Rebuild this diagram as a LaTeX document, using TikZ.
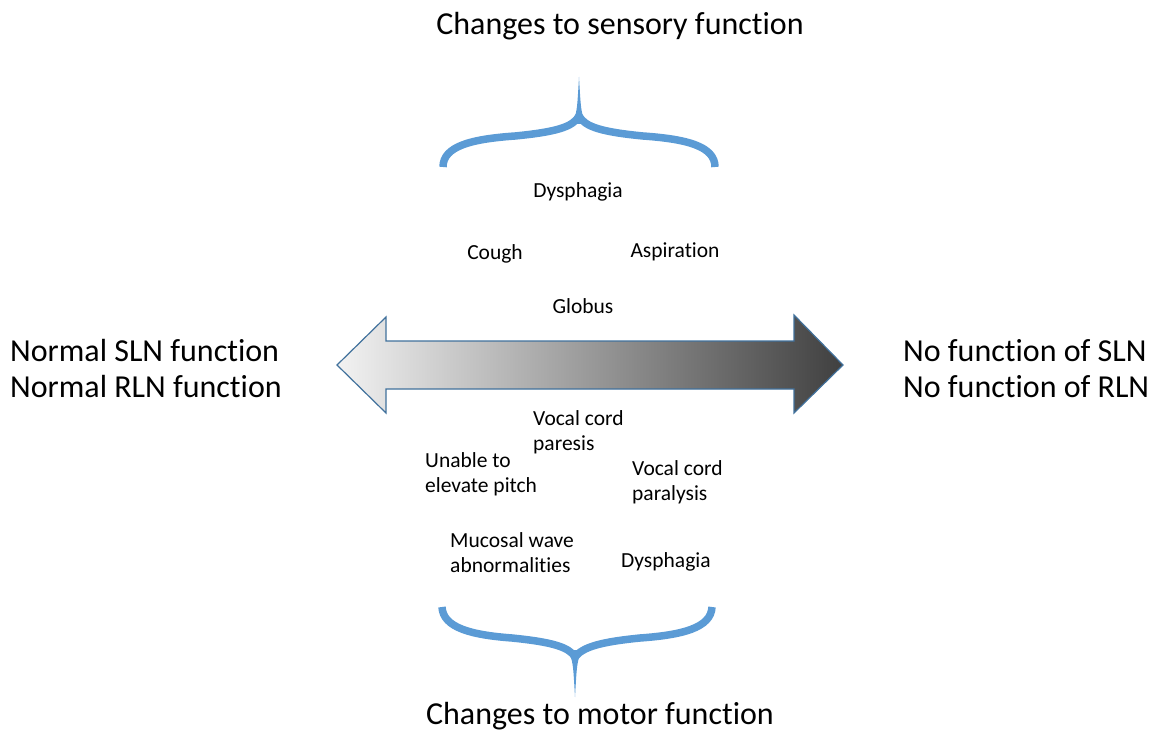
\documentclass[tikz,border=0pt]{standalone}
\usepackage{fontspec}
\setmainfont[Ligatures={NoCommon}]{Carlito}
\definecolor{braceblue}{HTML}{5B9BD5}
\definecolor{arrowline}{HTML}{41719C}
\tikzset{
	big/.style={font=\fontsize{32}{36}\selectfont, inner sep=0pt, align=left},
	small/.style={font=\fontsize{21.5}{25}\selectfont, inner sep=0pt, align=left},
	brace/.style={braceblue, line width=7.5pt},
}
\begin{document}
\begin{tikzpicture}[x=1pt,y=-1pt]
	\useasboundingbox (0,0) rectangle (1153,730);
	% double arrow
	\shade[left color=black!5, right color=black!75]
		(337,365) -- (386,317) -- (386,341) -- (794,341) -- (794,315) -- (843,365)
		-- (794,413) -- (794,389) -- (386,389) -- (386,413) -- cycle;
	\draw[arrowline, line width=1.2pt, line join=miter]
		(337,365) -- (386,317) -- (386,341) -- (794,341) -- (794,315) -- (843,365)
		-- (794,413) -- (794,389) -- (386,389) -- (386,413) -- cycle;
	% upper brace
	\draw[brace] (443,167) .. controls (443,146) and (472,139) .. (515,136)
		.. controls (556,132) and (573,127) .. (579,116);
	\draw[brace] (715,167) .. controls (715,146) and (686,139) .. (643,136)
		.. controls (602,132) and (585,127) .. (579,116);
	\fill[braceblue] (572,124) .. controls (577,112) .. (579,77) .. controls (581,112) .. (586,124) -- cycle;
	% lower brace
	\draw[brace] (442,607) .. controls (443,628) and (472,635) .. (512,638)
		.. controls (552,642) and (569,647) .. (575,657);
	\draw[brace] (712,607) .. controls (711,628) and (682,635) .. (640,638)
		.. controls (600,642) and (583,647) .. (575,657);
	\fill[braceblue] (568,650) .. controls (573,662) .. (575,697) .. controls (577,662) .. (582,650) -- cycle;
	% titles (base of a two-line node = its last line)
	\node[big, anchor=base] (sensory) at (620,35) {Changes to sensory function};
	\node[big, anchor=base] (motor) at (600,724) {Changes to motor function};
	\node[big, anchor=base west] (normal) at (10,397) {Normal SLN function\\Normal RLN function};
	\node[big, anchor=base west] (nofunc) at (903,397) {No function of SLN\\No function of RLN};
	% sensory changes
	\node[small, anchor=base] (dysphagiaA) at (578,197) {Dysphagia};
	\node[small, anchor=base] (cough) at (495,259) {Cough};
	\node[small, anchor=base] (aspiration) at (675,257) {Aspiration};
	\node[small, anchor=base] (globus) at (583,313) {Globus};
	% motor changes
	\node[small, anchor=base west] (paresis) at (533,450) {Vocal cord\\paresis};
	\node[small, anchor=base west] (pitch) at (425,492) {Unable to\\elevate pitch};
	\node[small, anchor=base west] (paralysis) at (632,500) {Vocal cord\\paralysis};
	\node[small, anchor=base west] (mucosal) at (450,572) {Mucosal wave\\abnormalities};
	\node[small, anchor=base west] (dysphagiaB) at (621,567) {Dysphagia};
\end{tikzpicture}
\end{document}
